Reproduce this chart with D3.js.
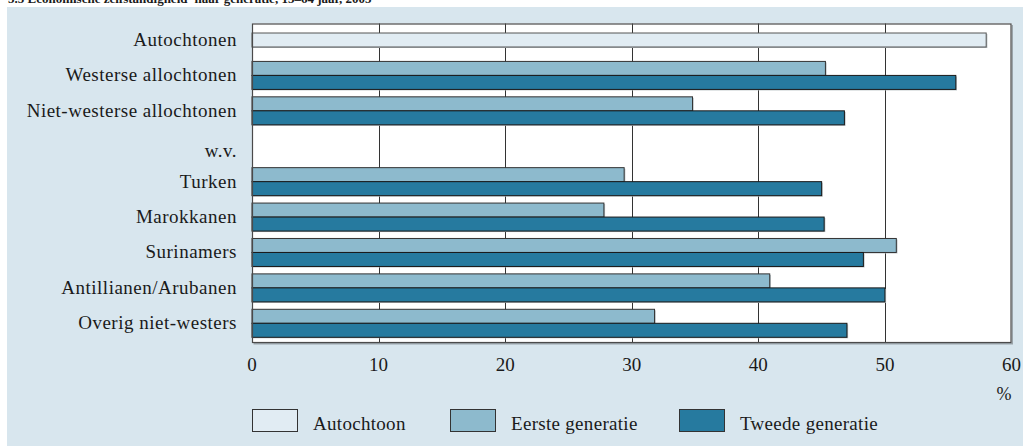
<!DOCTYPE html>
<html><head><meta charset="utf-8">
<script src="https://cdn.jsdelivr.net/npm/d3@7"></script>
<style>body{margin:0;background:#fff}svg{display:block}text{font-family:"Liberation Serif","Times New Roman",serif;fill:#1a1a1a}</style>
</head><body>
<svg id="c" width="1023" height="446"></svg>
<script>
const title = "5.5  Economische zelfstandigheid\u00B9  naar generatie, 15\u201364 jaar, 2005";
const categories = ["Autochtonen","Westerse allochtonen","Niet-westerse allochtonen","w.v.","Turken","Marokkanen","Surinamers","Antillianen/Arubanen","Overig niet-westers"];
const autochtoon = [58.0, null, null, null, null, null, null, null, null];
const eerste = [null, 45.3, 34.8, null, 29.4, 27.8, 50.9, 40.9, 31.8];
const tweede = [null, 55.6, 46.8, null, 45.0, 45.2, 48.3, 50.0, 47.0];
const xTicks = [0,10,20,30,40,50,60];
const seriesNames = ["Autochtoon","Eerste generatie","Tweede generatie"];
const colors = ["#e1ecf3","#8dbacd","#267a9f"];

const svg = d3.select("#c");
svg.append("rect").attr("x",7).attr("y",7).attr("width",1016).attr("height",439).attr("fill","#d8e6ee");
svg.append("text").attr("x",8).attr("y",3).attr("font-size",13).attr("font-weight","bold").text(title);

const L=252, R=1011.5, T=23.5, B=343;
const x = d3.scaleLinear().domain([0,60]).range([L,R]);
const y = d3.scaleBand().domain(categories).range([22.3,341]).padding(0);

// plot frame shadow + background
svg.append("rect").attr("x",L+1.5).attr("y",T+1.5).attr("width",R-L).attr("height",B-T).attr("fill","#9aa4aa");
svg.append("rect").attr("x",L).attr("y",T).attr("width",R-L).attr("height",B-T).attr("fill","#fff");

// gridlines
svg.append("g").selectAll("line").data(xTicks.slice(1,-1)).join("line")
  .attr("x1",d=>Math.round(x(d))+0.5).attr("x2",d=>Math.round(x(d))+0.5)
  .attr("y1",T).attr("y2",B).attr("stroke","#333").attr("stroke-width",1);

const bh = 14;
function drawBars(vals, color, offset, stroke){
  const data = categories.map((c,i)=>({c, v: vals[i]})).filter(d=>d.v!=null);
  const g = svg.append("g");
  g.selectAll("rect.s").data(data).join("rect")
    .attr("x",x(0)).attr("y",d=>y(d.c)+y.bandwidth()/2+offset+1)
    .attr("width",d=>x(d.v)-x(0)+1.2).attr("height",bh).attr("fill","#b8c0c4");
  g.selectAll("rect.b").data(data).join("rect")
    .attr("x",x(0)).attr("y",d=>y(d.c)+y.bandwidth()/2+offset)
    .attr("width",d=>x(d.v)-x(0)).attr("height",bh)
    .attr("fill",color).attr("stroke",stroke).attr("stroke-width",1);
}
drawBars(autochtoon, colors[0], -bh/2, "#555");
drawBars(eerste, colors[1], -bh, "#333");
drawBars(tweede, colors[2], 0, "#1a1a1a");

// frame
svg.append("rect").attr("x",L+0.5).attr("y",T+0.5).attr("width",R-L-1).attr("height",B-T-1)
  .attr("fill","none").attr("stroke","#4a4a4a").attr("stroke-width",1.2);

// category labels
svg.append("g").selectAll("text").data(categories).join("text")
  .attr("x",237).attr("y",d=>y(d)+y.bandwidth()/2 + (d==="w.v."?11:6))
  .attr("text-anchor","end").attr("font-size",19).attr("letter-spacing",0.5).text(d=>d);

// x axis labels
svg.append("g").selectAll("text").data(xTicks).join("text")
  .attr("x",d=>x(d)).attr("y",371).attr("text-anchor","middle").attr("font-size",19).text(d=>d);
svg.append("text").attr("x",1004).attr("y",400).attr("text-anchor","middle").attr("font-size",18).text("%");

// legend
const legX = [252, 450, 679];
const lg = svg.append("g").selectAll("g").data(seriesNames).join("g");
lg.append("rect").attr("x",(d,i)=>legX[i]+0.5).attr("y",409.5).attr("width",45).attr("height",22)
  .attr("fill",(d,i)=>colors[i]).attr("stroke","#333").attr("stroke-width",1);
lg.append("text").attr("x",(d,i)=>legX[i]+61).attr("y",430).attr("font-size",19).attr("letter-spacing",0.3).text(d=>d);
</script>
</body></html>
